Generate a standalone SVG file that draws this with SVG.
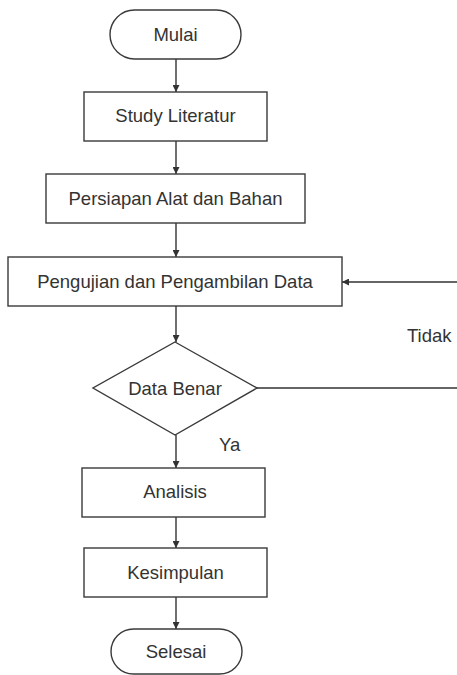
<svg xmlns="http://www.w3.org/2000/svg" width="457" height="675" viewBox="0 0 457 675">
<style>
.shape{fill:#ffffff;stroke:#3a3a3a;stroke-width:1.4}
.lbl{font-family:"Liberation Sans",Arial,sans-serif;font-size:18.5px;fill:#333333;text-anchor:middle}
.free{font-family:"Liberation Sans",Arial,sans-serif;font-size:18.5px;fill:#333333}
.conn{fill:none;stroke:#333333;stroke-width:1.4}
</style>
<defs>
<marker id="ah" viewBox="0 0 10 10" refX="10" refY="5" markerWidth="7" markerHeight="7" markerUnits="userSpaceOnUse" orient="auto">
<path d="M0,0 L10,5 L0,10 Z" fill="#333333"/>
</marker>
</defs>
<rect width="457" height="675" fill="#ffffff"/>
<g id="connectors">
<path class="conn" d="M176,59 V92" marker-end="url(#ah)"/>
<path class="conn" d="M176,141 V174" marker-end="url(#ah)"/>
<path class="conn" d="M176,223 V257" marker-end="url(#ah)"/>
<path class="conn" d="M176,306 V342" marker-end="url(#ah)"/>
<path class="conn" d="M176,435 V468" marker-end="url(#ah)"/>
<path class="conn" d="M176,517 V548" marker-end="url(#ah)"/>
<path class="conn" d="M176,597 V629" marker-end="url(#ah)"/>
<path class="conn" d="M257,388 H465 V282 H342" marker-end="url(#ah)"/>
</g>
<g id="mulai">
<rect class="shape" x="110" y="10" width="131" height="49" rx="24.5" ry="24.5"/>
<text class="lbl" x="175.5" y="41">Mulai</text>
</g>
<g id="study">
<rect class="shape" x="84" y="92" width="183" height="49"/>
<text class="lbl" x="175.5" y="122">Study Literatur</text>
</g>
<g id="persiapan">
<rect class="shape" x="46" y="174" width="259" height="49"/>
<text class="lbl" x="175.5" y="205">Persiapan Alat dan Bahan</text>
</g>
<g id="pengujian">
<rect class="shape" x="8" y="257" width="334" height="49"/>
<text class="lbl" x="175" y="288">Pengujian dan Pengambilan Data</text>
</g>
<g id="databenar">
<polygon class="shape" points="175,342 257,388 175,435 93,388"/>
<text class="lbl" x="175" y="395">Data Benar</text>
</g>
<g id="analisis">
<rect class="shape" x="82" y="468" width="183" height="49"/>
<text class="lbl" x="175" y="498">Analisis</text>
</g>
<g id="kesimpulan">
<rect class="shape" x="84" y="548" width="183" height="49"/>
<text class="lbl" x="175.5" y="579">Kesimpulan</text>
</g>
<g id="selesai">
<rect class="shape" x="111" y="629" width="131" height="45" rx="22.5" ry="22.5"/>
<text class="lbl" x="176" y="658">Selesai</text>
</g>
<text class="free" x="407" y="342">Tidak</text>
<text class="free" x="219" y="451">Ya</text>
</svg>
